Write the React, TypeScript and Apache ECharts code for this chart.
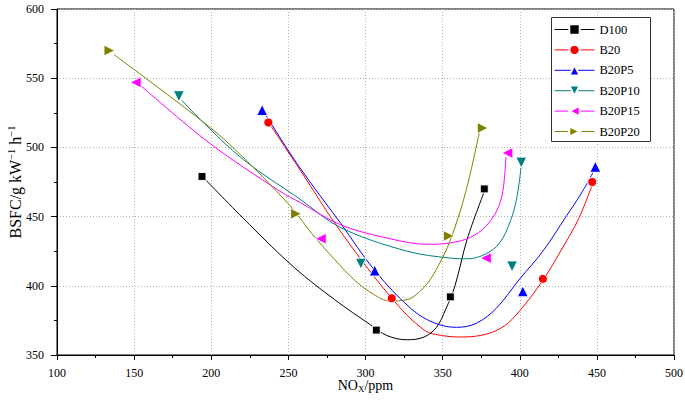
import React, { useEffect, useRef } from "react";
import * as echarts from "echarts";

// ---- data ----
const seriesNames = ["D100", "B20", "B20P5", "B20P10", "B20P15", "B20P20"];
const seriesColors = ["#000000", "#FF0000", "#0000FF", "#008080", "#FF00FF", "#808000"];

// measured points (NOx ppm, BSFC g/kWh)
const d100Nox = [194, 307, 355, 377];
const d100Bsfc = [479, 368, 392, 470];
const b20Nox = [237, 317, 415, 447];
const b20Bsfc = [518, 391, 405, 475];
const b20p5Nox = [233, 306, 402, 449];
const b20p5Bsfc = [527, 411, 396, 486];
const b20p10Nox = [179, 297, 395, 401];
const b20p10Bsfc = [537, 416, 414, 489];
const b20p15Nox = [151, 271, 378, 392];
const b20p15Bsfc = [547, 434, 420, 496];
const b20p20Nox = [134, 255, 354, 376];
const b20p20Bsfc = [570, 452, 436, 514];

// fitted curves
const d100CurveNox = [196, 225, 254, 280, 303, 314, 327, 338, 346, 352, 358, 366, 377];
const d100CurveBsfc = [477, 444, 413, 390, 372, 364, 361, 363, 370, 383, 400, 434, 468];
const b20CurveNox = [239, 258, 284, 317, 338, 350, 363, 378, 390, 400, 415, 428, 438, 447];
const b20CurveBsfc = [515, 483, 439, 391, 368, 364, 363, 365, 371, 382, 404, 428, 448, 473];
const b20p5CurveNox = [235, 257, 284, 306, 330, 345, 359, 372, 385, 400, 415, 430, 440, 449];
const b20p5CurveBsfc = [524, 486, 445, 411, 383, 373, 370, 373, 384, 405, 425, 450, 467, 485];
const b20p10CurveNox = [181, 193, 221, 257, 284, 327, 355, 366, 378, 387, 394, 398, 401];
const b20p10CurveBsfc = [534, 520, 491, 463, 442, 425, 420, 419.5, 423, 431, 447, 463, 487];
const b20p15CurveNox = [154, 199, 245, 258, 284, 316, 340, 355, 368, 378, 385, 389, 391];
const b20p15CurveBsfc = [545, 503, 468, 460, 444, 434, 430, 431, 435, 443, 454, 468, 493];
const b20p20CurveNox = [137, 193, 214, 251, 265, 280, 293, 305, 316, 327, 338, 346, 355, 365, 374];
const b20p20CurveBsfc = [567, 520, 500, 458, 438, 419, 404, 394, 389, 390, 399, 412, 433, 468, 512];

const pointX = [d100Nox, b20Nox, b20p5Nox, b20p10Nox, b20p15Nox, b20p20Nox];
const pointY = [d100Bsfc, b20Bsfc, b20p5Bsfc, b20p10Bsfc, b20p15Bsfc, b20p20Bsfc];
const curveX = [d100CurveNox, b20CurveNox, b20p5CurveNox, b20p10CurveNox, b20p15CurveNox, b20p20CurveNox];
const curveY = [d100CurveBsfc, b20CurveBsfc, b20p5CurveBsfc, b20p10CurveBsfc, b20p15CurveBsfc, b20p20CurveBsfc];

const symbols = ["rect", "circle", "triangle", "triangle", "triangle", "triangle"];
const symbolRotations = [0, 0, 0, 180, 90, -90];
const symbolSizes = [8, 9, 11, 11, 11, 11];

const FONT = "Liberation Serif";

const zip = (xs: number[], ys: number[]) => xs.map((x, i) => [x, ys[i]]);

const tickRich = { t: { fontFamily: FONT, fontSize: 12, color: "#000" } };

export default function App() {
  const ref = useRef<HTMLDivElement>(null);

  useEffect(() => {
    if (!ref.current) return;
    const chart = echarts.init(ref.current, undefined, { renderer: "svg" });

    const curveSeries = seriesNames.map((n, i) => ({
      name: n + " fit",
      type: "line",
      data: zip(curveX[i], curveY[i]),
      smooth: 0.35,
      symbol: "none",
      showSymbol: false,
      silent: true,
      z: 2,
      lineStyle: { color: seriesColors[i], width: 1 },
    }));

    const pointSeries = seriesNames.map((n, i) => ({
      name: n,
      type: "line",
      data: zip(pointX[i], pointY[i]),
      symbol: symbols[i],
      symbolSize: symbolSizes[i],
      symbolRotate: symbolRotations[i],
      showSymbol: true,
      color: seriesColors[i],
      itemStyle: { color: seriesColors[i], borderColor: "#ffffff", borderWidth: 1 },
      lineStyle: { color: seriesColors[i], width: 0, opacity: 0 },
      z: 5,
    }));

    chart.setOption({
      animation: false,
      backgroundColor: "#ffffff",
      textStyle: { fontFamily: FONT },
      grid: {
        left: 57,
        right: 11,
        top: 9,
        bottom: 46,
        containLabel: false,
        outerBoundsMode: "none",
        show: true,
        borderColor: "#000",
        borderWidth: 1,
        backgroundColor: "transparent",
      },
      graphic: [
        {
          type: "rect",
          z: 1,
          silent: true,
          shape: { x: 551.5, y: 17.5, width: 99, height: 124 },
          style: { fill: "#ffffff", stroke: "#333333", lineWidth: 1 },
        },
      ],
      legend: {
        data: seriesNames,
        orient: "vertical",
        left: 551,
        top: 17,
        padding: [6, 0, 4, 3],
        itemGap: 7.4,
        itemWidth: 40,
        itemHeight: 13,
        borderWidth: 0,
        backgroundColor: "transparent",
        z: 10,
        formatter: (name: string) => `{t|${name}}`,
        textStyle: {
          fontFamily: FONT,
          fontSize: 12.5,
          color: "#000",
          rich: { t: { fontFamily: FONT, fontSize: 12.5, color: "#000" } },
        },
        lineStyle: { width: 1, opacity: 1 },
      },
      xAxis: {
        type: "value",
        min: 100,
        max: 500,
        interval: 50,
        name: "NO{sub|X}/ppm",
        nameLocation: "middle",
        nameGap: 22,
        nameMoveOverlap: false,
        nameTextStyle: {
          fontFamily: FONT,
          fontSize: 14,
          color: "#000",
          lineHeight: 16,
          rich: {
            sub: { fontFamily: FONT, fontSize: 9, color: "#000", verticalAlign: "bottom", lineHeight: 9 },
          },
        },
        axisLine: { show: true, onZero: false, lineStyle: { color: "#000", width: 1 } },
        axisTick: { show: true, length: 5, lineStyle: { color: "#000" } },
        minorTick: { show: true, splitNumber: 2, length: 3, lineStyle: { color: "#000" } },
        axisLabel: {
          fontFamily: FONT,
          fontSize: 12,
          color: "#000",
          margin: 12,
          formatter: (v: number) => `{t|${v}}`,
          rich: tickRich,
        },
        splitLine: { show: true, lineStyle: { color: "#b4b4b4", type: [1, 2], width: 1 } },
      },
      yAxis: {
        type: "value",
        min: 350,
        max: 600,
        interval: 50,
        name: "BSFC/g kW{sup|−1} h{sup|−1}",
        nameLocation: "middle",
        nameRotate: 90,
        nameGap: 33,
        nameMoveOverlap: false,
        nameTextStyle: {
          fontFamily: FONT,
          fontSize: 16,
          color: "#000",
          lineHeight: 18,
          rich: {
            sup: { fontFamily: FONT, fontSize: 10.5, color: "#000", verticalAlign: "top", lineHeight: 10 },
          },
        },
        axisLine: { show: true, onZero: false, lineStyle: { color: "#000", width: 1 } },
        axisTick: { show: true, length: 6, lineStyle: { color: "#000" } },
        minorTick: { show: true, splitNumber: 2, length: 3, lineStyle: { color: "#000" } },
        axisLabel: {
          fontFamily: FONT,
          fontSize: 12,
          color: "#000",
          margin: 13,
          formatter: (v: number) => `{t|${v}}`,
          rich: tickRich,
        },
        splitLine: { show: true, lineStyle: { color: "#b4b4b4", type: [1, 2], width: 1 } },
      },
      series: [...curveSeries, ...pointSeries],
    });

    return () => chart.dispose();
  }, []);

  return (
    <div
      ref={ref}
      style={{ position: "fixed", left: 0, top: 0, width: 685, height: 401, background: "#fff" }}
    />
  );
}
